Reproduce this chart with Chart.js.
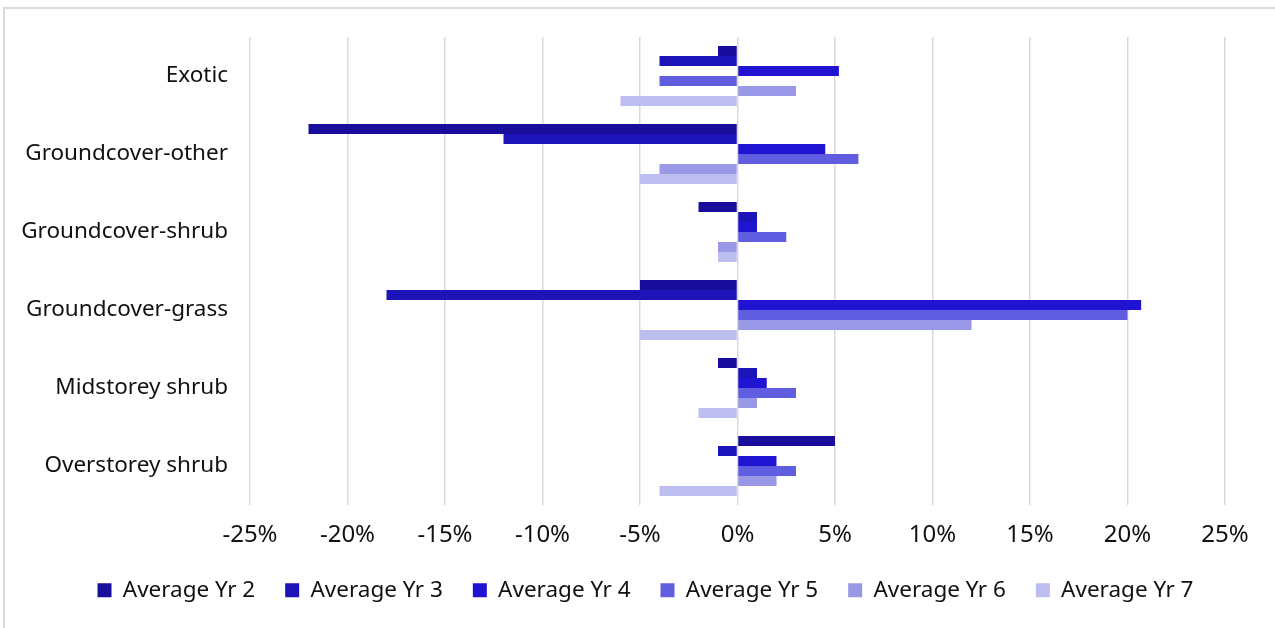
<!DOCTYPE html>
<html>
<head>
<meta charset="utf-8">
<script src="https://cdn.jsdelivr.net/npm/chart.js@4.4.1/dist/chart.umd.min.js"></script>
<style>
  html, body { margin: 0; padding: 0; background: #ffffff; overflow: hidden; }
  #frame { position: absolute; left: 3px; top: 7px; width: 1400px; height: 800px;
           border-left: 2px solid #d9d9d9; border-top: 2px solid #d9d9d9; box-sizing: border-box; }
  #wrap { position: absolute; left: 0; top: 0; width: 1275px; height: 628px; }
</style>
</head>
<body>
<div id="frame"></div>
<div id="wrap"><canvas id="c" width="1275" height="628"></canvas></div>
<script>
// Vegetation categories (top to bottom)
const categories = ['Exotic', 'Groundcover-other', 'Groundcover-shrub', 'Groundcover-grass', 'Midstorey shrub', 'Overstorey shrub'];

// Average change per year, in percent
const yr2 = [-1, -22, -2, -5, -1, 5];
const yr3 = [-4, -12, 1, -18, 1, -1];
const yr4 = [5.2, 4.5, 1, 20.7, 1.5, 2];
const yr5 = [-4, 6.2, 2.5, 20, 3, 3];
const yr6 = [3, -4, -1, 12, 1, 2];
const yr7 = [-6, -5, -1, -5, -2, -4];

const seriesNames = ['Average Yr 2', 'Average Yr 3', 'Average Yr 4', 'Average Yr 5', 'Average Yr 6', 'Average Yr 7'];
const seriesColors = ['#190e9b', '#1c13b9', '#2013d1', '#605de0', '#9898e6', '#bdbdf0'];

// Axis tick range (percent)
const xMin = -25, xMax = 25, xStep = 5;

const FONT = "'Noto Sans', 'Open Sans', sans-serif";

const datasets = [yr2, yr3, yr4, yr5, yr6, yr7].map((vals, i) => ({
  label: seriesNames[i],
  data: vals,
  backgroundColor: seriesColors[i],
  borderWidth: 0,
  categoryPercentage: 0.77,
  barPercentage: 1.0
}));

// Legend spacing is wider horizontally than vertically; fix its height here
const legendHeightPlugin = {
  id: 'legendHeight',
  beforeInit(chart) {
    const origFit = chart.legend.fit;
    chart.legend.fit = function () {
      origFit.call(this);
      this.height = 79;
    };
  }
};

new Chart(document.getElementById('c'), {
  type: 'bar',
  data: { labels: categories, datasets },
  plugins: [legendHeightPlugin],
  options: {
    indexAxis: 'y',
    responsive: false,
    animation: false,
    layout: { padding: { left: 16, right: 0, top: 37, bottom: 0 } },
    scales: {
      x: {
        min: xMin, max: xMax,
        ticks: {
          stepSize: xStep,
          padding: 16,
          color: '#111111',
          font: { family: FONT, size: 24 },
          callback: v => v + '%'
        },
        grid: { color: '#d9d9d9', lineWidth: 1.5, drawTicks: false },
        border: { display: false },
        afterFit(scale) { scale.height = 44; }
      },
      y: {
        ticks: {
          padding: 22,
          color: '#111111',
          font: { family: FONT, size: 22.5 }
        },
        grid: { display: false, drawTicks: false },
        border: { display: false },
        afterFit(scale) { scale.width = 234; }
      },
      // empty spacer on the right, keeps the plot clear of the edge
      yRight: {
        type: 'category',
        position: 'right',
        grid: { display: false, drawTicks: false },
        border: { display: false },
        ticks: { display: false },
        afterFit(scale) { scale.width = 50; }
      }
    },
    plugins: {
      legend: {
        position: 'bottom',
        labels: {
          boxWidth: 14,
          boxHeight: 14,
          padding: 30,
          color: '#111111',
          font: { family: FONT, size: 22.5 }
        }
      },
      tooltip: { enabled: false }
    }
  }
});
</script>
</body>
</html>
